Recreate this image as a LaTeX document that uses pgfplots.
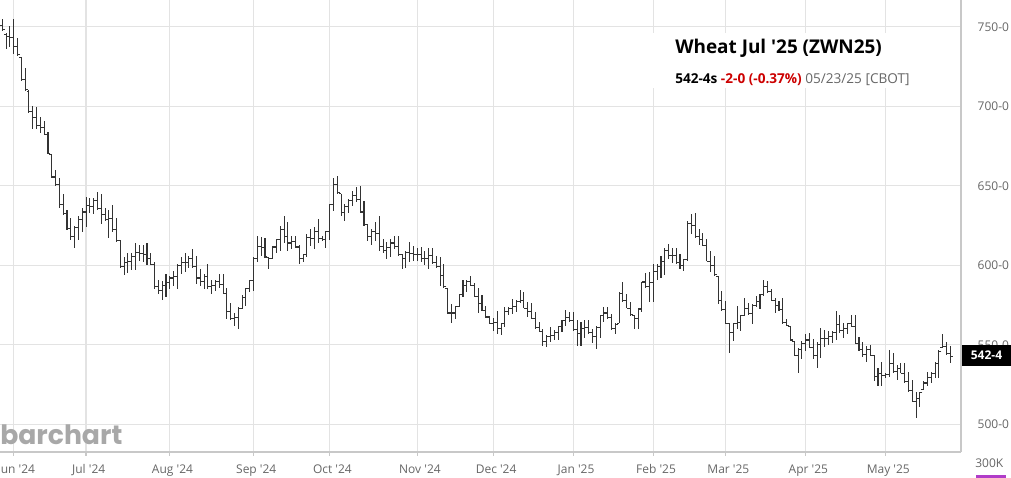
\documentclass[border=0pt]{standalone}
\usepackage{fontspec}
\setmainfont{Open Sans}[Ligatures=TeXOff]
\newfontfamily\logofont{Poppins}[Ligatures=TeXOff]
\usepackage{pgfplots}
\usepackage{pgfplotstable}
\pgfplotsset{compat=1.18}
\definecolor{gridc}{HTML}{E3E3E3}
\definecolor{axc}{HTML}{C8C8C8}
\definecolor{labc}{HTML}{666666}
\definecolor{redc}{HTML}{CC0000}
\definecolor{purp}{HTML}{B03CC8}
\definecolor{logoc}{HTML}{A8A8A8}
\definecolor{barc}{HTML}{333333}
\pgfplotstableread{
H L O C
754.6 747.5 751 748
745.8 735.8 745 744
750.4 737.4 744 743.5
754.6 732.6 743.5 737.5
742.7 732.2 737.5 732.5
731 716 730.5 717
724 710 717 710.5
710 696 709.5 696.5
700 686 696.5 693
699.6 686 693 688
693 683 688 686.5
691 682 686.5 682.5
684 670 682.5 670.5
670 655 669.5 655.5
660 650 655.5 650.5
655 636 650.5 638.5
645 632 638.5 632.5
635 622 632.5 623
630 616 623 618
625 611 618 623.5
631 616 623.5 628.5
636 621 628.5 633.5
643 624 633.5 637.5
642 633 637.5 637
642 632 637 640.5
646 635 640.5 635.5
645 626 635.5 632
636 628 632 628.5
635 617 628.5 629.5
638 621 629.5 622.5
630 615 622.5 615.5
616 598 615.5 599.5
605 594 599.5 601.5
608 595 601.5 602.5
608 597 602.5 605.5
614 597 605.5 608
613 603 608 607.5
613 602 607.5 607
614 600 607 604
608 600 604 600.5
602 585 600.5 586.5
591 582 586.5 584
590 578 584 587
594.5 580 587 589
593 585 589 592
596.5 587 592 593
601 585 593 600
605 594.5 600 601.5
607.5 595.5 601.5 602
606 598.5 602 604
610 598.5 604 599
606 588 599 592
597.5 587 592 590
594.5 585 590 593
601 585 593 586.5
591 582 586.5 587.5
591 584 587.5 590
594.5 586 590 588
594.5 582 588 582.5
586 566 582.5 571
576.5 566 571 566.5
570 562 566.5 567
573.5 560 567 573
581 572.5 573 580
586 574.5 580 585.5
591 583 585.5 590.5
605 584 590.5 604.5
618.5 602 604.5 612
617.5 606 612 611
617 605 611 605.5
605 597.5 605 604.5
612 604 604.5 611.5
616.5 608 611.5 616
625 609 616 622.5
631 614 622.5 618
627 609 618 614
618.5 610 614 615
618.5 611 615 611.5
613 601 611.5 604.5
607 602 604.5 606.5
619.5 605 606.5 617.5
623 612 617.5 617
624 610 617 621.5
629 614 621.5 617
618.5 615.5 617 616
621.5 611 616 621
638.5 616 621 638
655 634 638 650.5
656 645 650.5 645.5
645 631 645 633
638.5 628 633 637
641.5 633 637 641
647 637.5 641 644
649 639.5 644 641.5
650 633 641.5 633.5
640.5 625 633.5 625.5
626 615.5 625.5 618
623 613 618 621
627 615.5 621 620
631 609 620 612
616.5 608 612 609
614.5 604 609 611
616.5 605 611 614
618.5 610 614 612
618.5 606 612 606.5
607 597.5 606.5 604
609 598.5 604 608
614.5 602 608 607.5
612 603 607.5 607
611 603 607 607
611.5 602 607 604.5
609 600 604.5 604
611 597.5 604 606
611 601 606 602
606 598.5 602 599
605 587 599 593.5
601 586 593.5 586.5
586 569.5 585.5 570
575.5 564 570 570
574.5 566 570 574
582 573.5 574 581.5
591 580 581.5 587
591 583 587 590
593.5 587 590 587.5
589 580 587.5 580.5
586 570 580.5 576
581 571.5 576 571.5
574.5 567 571.5 567.5
568 563 567.5 563.5
567 558.5 563.5 564
571 557 564 560
564 556 560 563.5
574 561 563.5 571
573.5 568.5 571 573
579 569.5 573 574
578 570.5 574 577.5
584.5 576 577.5 578
583 573 578 573
577 567.5 573 571
576 566.5 571 566.5
570.5 560 566.5 561
564.5 558 561 558.5
560 549.5 558.5 552
556 548.5 552 555.5
561 552 555.5 556
559.5 553 556 557.5
562 553 557.5 561.5
565.5 558 561.5 565
572 562 565 567
570.5 564.5 567 565
570.5 559 565 559.5
565.5 549.5 559.5 557
564.5 549.5 557 560
565.5 554 560 561
565.5 557 561 557.5
560 551 557.5 555
562 547.5 555 561
568.5 554 561 568.5
574 564.5 568.5 570
574 566.5 570 567
569.5 559 567 560
563.5 557 560 563
583 563.5 563.5 582.5
589.5 577 582.5 578
582 573 578 573
577 568.5 573 569
568.5 560 568.5 566.5
573 560 566.5 572.5
589.5 570.5 572.5 589.5
595 585.5 589.5 586.5
596 577 586.5 589
601 577 589 596
601 591 596 599
606 592 599 602.5
611 594 602.5 609
613.5 604 609 606
611 601.5 606 606
611 600.5 606 602
607 597.5 602 600
604 596.5 600 603.5
628 602.5 603.5 626
632 619.5 626 625
633 617.5 625 618
622.5 613 618 616
620.5 612 616 612.5
616.5 602.5 612.5 602.5
609 595.5 602.5 600
606 593.5 600 594
593.5 575.5 593 578
584 571.5 578 572
577.5 563 572 563.5
564 545 563.5 558
564 552.5 558 563.5
574.5 560 563.5 564
569 558.5 564 568.5
579.5 568 568.5 573
576.5 569 573 569.5
575.5 563 569.5 575
580.5 573.5 575 577
582 572.5 577 581.5
591 580.5 581.5 586.5
590 583 586.5 583.5
585 577.5 583.5 578
579.5 570 578 574.5
577.5 571.5 574.5 572
579.5 563 572 564
566 562 564 562
562 552.5 561.5 553
552.5 543 552 543.5
548 532.5 543.5 547
552.5 541 547 551
556.5 546 551 553
557.5 548 553 548.5
553.5 541 548.5 543.5
551.5 535.5 543.5 550
560.5 542 550 554
559.5 548.5 554 554
558.5 550 554 555
558.5 551 555 558
571 553 558 563
569 557.5 563 559
563.5 554 559 560
563.5 556.5 560 563.5
569 561.5 563.5 561.5
569 551 561.5 551
555 546 551 547
552 542.5 547 544
549 539.5 544 547
550 543.5 547 543.5
543.5 527 543 530
535.5 524 530 532
539.5 524 532 530.5
532 529 530.5 531.5
547 530 531.5 538.5
545 532 538.5 533
537.5 528 533 535
538.5 532 535 532
538.5 526 532 527
533 520.5 527 521
528 514.5 521 514.5
520.5 504 514.5 516
520.5 511 516 520
527 521.5 522 526
533 524 526 529.5
533 526 529.5 532
539.5 529 532 538
547 529 538 546
556.5 548 548.5 549
552 543.5 549 544.5
549 538.5 544.5 542.5
}\bars
\begin{document}
\begin{tikzpicture}
\begin{axis}[
  at={(0pt,0pt)}, anchor=south west,
  width=720.75pt, height=339pt, scale only axis,
  xmin=-0.6, xmax=251.8, ymin=482.6, ymax=766.8,
  axis x line=bottom, axis y line=right,
  axis line style={draw=axc, line width=0.9pt, -},
  xtick={3,22,44,66,86,109,129,150,171,190,211,232},
  xticklabels={Jun '24,Jul '24,Aug '24,Sep '24,Oct '24,Nov '24,Dec '24,Jan '25,Feb '25,Mar '25,Apr '25,May '25},
  ytick={500,550,600,650,700,750},
  yticklabels={500-0,550-0,600-0,650-0,700-0,750-0},
  grid=major, grid style={draw=gridc, line width=0.9pt},
  tick align=outside, major tick length=3pt,
  xtick style={draw=axc, line width=0.9pt},
  ytick style={draw=none},
  tick label style={font=\fontsize{9pt}{10pt}\selectfont, text=labc},
  xticklabel style={anchor=base, yshift=-13pt, xshift=2pt},
  yticklabel style={anchor=west, xshift=6pt},
]
\addplot[draw=none, mark=none,
  error bars/.cd, y dir=both, y explicit, error mark=none,
  error bar style={draw=barc, line width=0.8pt, solid}]
  table[x expr=\coordindex, y=C,
        y error plus expr=\thisrow{H}-\thisrow{C},
        y error minus expr=\thisrow{C}-\thisrow{L}] {\bars};
\addplot[only marks, mark=-, mark size=0.9pt,
  mark options={draw=barc, line width=0.8pt, xshift=-0.9pt}]
  table[x expr=\coordindex, y=O] {\bars};
\addplot[only marks, mark=-, mark size=0.9pt,
  mark options={draw=barc, line width=0.8pt, xshift=0.9pt}]
  table[x expr=\coordindex, y=C] {\bars};
\end{axis}
\begin{scope}[shift={(0pt,339pt)}, x=0.75pt, y=-0.75pt]
  \fill[white] (645,33) rectangle (955,88);
  \node[anchor=base west, inner sep=0pt, font=\fontsize{14.2pt}{17pt}\selectfont\bfseries] at (675,54) {Wheat Jul '25 (ZWN25)};
  \node[anchor=base west, inner sep=0pt, font=\fontsize{10.2pt}{12pt}\selectfont] at (675,84)
    {\textbf{542-4s} \textbf{\color{redc}-2-0 (-0.37\%)} {\color{labc}05/23/25 [CBOT]}};
  \fill[black] (962,345) rectangle (1011,366);
  \node[text=white, inner sep=0pt, font=\fontsize{9pt}{10pt}\selectfont\bfseries] at (986.5,355.5) {542-4};
  \node[anchor=base west, inner sep=0pt, text=labc, font=\fontsize{9pt}{10pt}\selectfont] at (975,468) {300K};
  \fill[purp] (976,475) rectangle (1006,478);
  \node[anchor=base west, inner sep=0pt, text=logoc, font=\logofont\bfseries\fontsize{20pt}{24pt}\selectfont] at (0,445) {barchart};
  \pgfresetboundingbox
  \useasboundingbox (0,0) rectangle (1011,478);
\end{scope}
\end{tikzpicture}
\end{document}
